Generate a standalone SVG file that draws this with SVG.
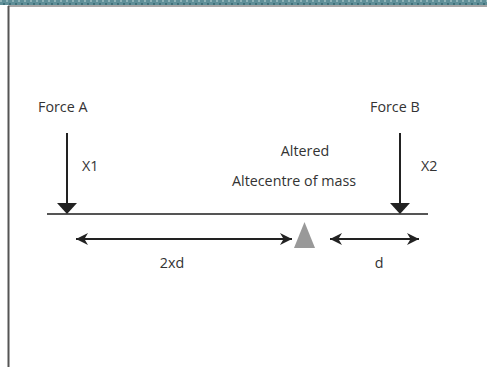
<svg xmlns="http://www.w3.org/2000/svg" width="487" height="367" viewBox="0 0 487 367">
<style>
text{font-family:"Open Sans","Liberation Sans",sans-serif;font-size:14.3px;fill:#333}
.ln{stroke:#222;stroke-width:2;fill:none}
.beam{stroke:#555;stroke-width:2;fill:none}
</style>
<defs>
<marker id="dh" viewBox="0 0 10 10" refX="10" refY="5" markerWidth="16" markerHeight="12" markerUnits="userSpaceOnUse" orient="auto-start-reverse">
<path d="M0,0 L10,5 L0,10 L3,5 z" fill="#222"/>
</marker>
<pattern id="tex" width="6" height="6" patternUnits="userSpaceOnUse">
<rect width="6" height="6" fill="#5f8f98"/>
<rect x="0" y="0" width="2" height="2" fill="#8fb3b8"/>
<rect x="3" y="3" width="2" height="2" fill="#3f6f78"/>
</pattern>
</defs>
<rect width="487" height="367" fill="#fff"/>
<rect x="0" y="0" width="487" height="5" fill="url(#tex)"/>
<line x1="8" y1="6" x2="487" y2="6" stroke="#888" stroke-width="1.5"/>
<line x1="8.5" y1="6" x2="8.5" y2="367" stroke="#555" stroke-width="2"/>
<g id="beam"><line class="beam" x1="47" y1="214" x2="428" y2="214"/></g>
<g id="pivot"><polygon points="304.5,222 294,248 315,248" fill="#999"/></g>
<g id="forceA"><text x="38" y="112">Force A</text><text x="82" y="171">X1</text></g>
<g id="forceB"><text x="370" y="112">Force B</text><text x="421" y="171">X2</text></g>
<g id="com"><text x="305" y="156" text-anchor="middle">Altered</text><text x="294" y="186" text-anchor="middle">Altecentre of mass</text></g>
<g id="dist"><text x="172" y="268" text-anchor="middle">2xd</text><text x="379" y="268" text-anchor="middle">d</text></g>
<g id="connectors">
<line class="ln" x1="67" y1="133" x2="67" y2="203"/>
<polygon points="57,203 77,203 67,214" fill="#222"/>
<line class="ln" x1="400" y1="133" x2="400" y2="203"/>
<polygon points="390,203 410,203 400,214" fill="#222"/>
<line class="ln" x1="76" y1="239" x2="292" y2="239" marker-start="url(#dh)" marker-end="url(#dh)"/>
<line class="ln" x1="330" y1="239" x2="419" y2="239" marker-start="url(#dh)" marker-end="url(#dh)"/>
</g>
</svg>
